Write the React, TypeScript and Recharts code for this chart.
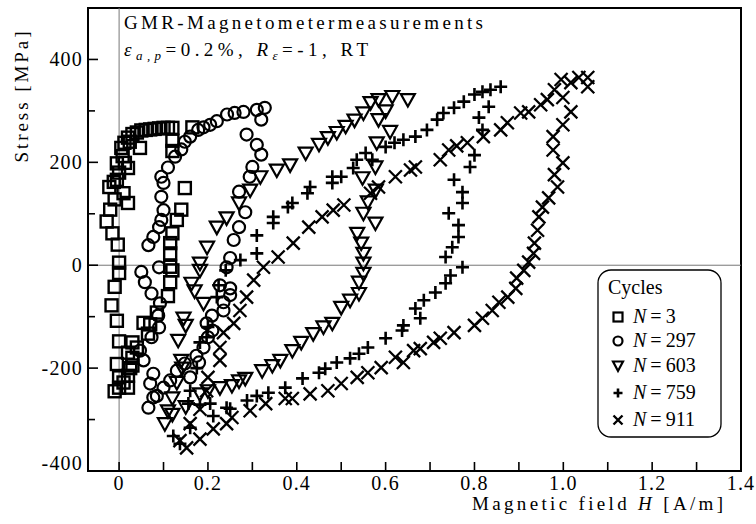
import React from 'react';
import { ScatterChart, Scatter, XAxis, YAxis, ReferenceLine, ReferenceArea } from 'recharts';

// N = 3 (squares)
const n3H = [-0.01, 0.0, 0.02, 0.0, -0.005, 0.02, 0.03, 0.02, 0.03, 0.0, -0.005, -0.017, -0.01, 0.0, 0.0, -0.003, -0.015, -0.028, -0.02, -0.01, -0.022, -0.012, 0.0, -0.005, 0.008, 0.005, 0.012, 0.02, 0.03, 0.04, 0.05, 0.06, 0.07, 0.08, 0.09, 0.1, 0.11, 0.12, 0.165, 0.12, 0.12, 0.148, 0.14, 0.13, 0.12, 0.115, 0.115, 0.115, 0.12, 0.115, 0.11, 0.085, 0.07, 0.055, 0.065, 0.04, 0.03, 0.025, 0.01, 0.013, 0.02, -0.005, 0.01, 0.02, 0.024, 0.047];
const n3S = [-245, -238, -238, -218, -192, -215, -195, -170, -150, -148, -108, -78, -42, -15, 5, 40, 62, 85, 108, 128, 152, 162, 180, 198, 212, 228, 238, 248, 255, 258, 262, 263, 264, 265, 266, 267, 267, 267, 268, 242, 222, 150, 108, 88, 62, 43, 23, -3, -10, -33, -60, -92, -115, -112, -133, -160, -180, -200, -228, 199, 189, 166, 140, 121, 240, 228];

// N = 297 (circles)
const n297H = [0.066, 0.077, 0.07, 0.077, 0.055, 0.047, 0.073, 0.09, 0.088, 0.092, 0.073, 0.058, 0.05, 0.09, 0.066, 0.077, 0.09, 0.095, 0.1, 0.095, 0.1, 0.095, 0.11, 0.126, 0.14, 0.148, 0.16, 0.178, 0.19, 0.205, 0.22, 0.243, 0.26, 0.28, 0.31, 0.328, 0.085, 0.1, 0.115, 0.13, 0.148, 0.16, 0.174, 0.18, 0.19, 0.2, 0.21, 0.197, 0.209, 0.235, 0.235, 0.25, 0.25, 0.227, 0.242, 0.25, 0.258, 0.27, 0.284, 0.27, 0.294, 0.3, 0.32, 0.31, 0.287, 0.32];
const n297S = [-277, -257, -230, -211, -185, -166, -140, -121, -98, -74, -55, -33, -13, -4, 39, 55, 74, 88, 107, 133, 160, 172, 190, 211, 225, 240, 250, 263, 268, 273, 280, 293, 296, 298, 302, 306, -254, -238, -224, -205, -191, -218, -176, -189, -160, -140, -127, -113, -98, -88, -72, -58, -45, -39, -4, 14, 49, 74, 103, 143, 172, 191, 215, 234, 254, 283];

// N = 603 (triangles)
const n603H = [0.103, 0.11, 0.12, 0.13, 0.142, 0.14, 0.133, 0.15, 0.145, 0.19, 0.17, 0.163, 0.182, 0.182, 0.198, 0.22, 0.242, 0.27, 0.295, 0.318, 0.355, 0.385, 0.42, 0.45, 0.47, 0.49, 0.51, 0.53, 0.55, 0.566, 0.584, 0.615, 0.65, 0.12, 0.15, 0.182, 0.2, 0.227, 0.254, 0.27, 0.284, 0.322, 0.345, 0.363, 0.39, 0.41, 0.437, 0.46, 0.48, 0.5, 0.52, 0.54, 0.54, 0.55, 0.55, 0.55, 0.545, 0.536, 0.577, 0.55, 0.56, 0.578, 0.548, 0.577, 0.58, 0.61, 0.584, 0.6];
const n603S = [-308, -283, -258, -228, -200, -185, -146, -117, -103, -74, -50, -35, -10, 4, 35, 74, 92, 121, 146, 172, 185, 195, 218, 235, 248, 258, 270, 282, 296, 316, 322, 328, 322, -290, -275, -250, -244, -238, -234, -225, -220, -205, -195, -185, -166, -150, -133, -120, -113, -82, -68, -55, -33, -16, 4, 23, 43, 62, 82, 101, 123, 146, 170, 191, 238, 260, 283, 300];

// N = 759 (plus)
const n759H = [0.122, 0.137, 0.16, 0.16, 0.175, 0.182, 0.197, 0.2, 0.22, 0.224, 0.24, 0.273, 0.31, 0.31, 0.347, 0.347, 0.38, 0.39, 0.424, 0.43, 0.48, 0.48, 0.5, 0.527, 0.535, 0.555, 0.57, 0.6, 0.62, 0.64, 0.667, 0.693, 0.716, 0.73, 0.754, 0.776, 0.8, 0.818, 0.836, 0.859, 0.156, 0.182, 0.205, 0.212, 0.242, 0.25, 0.288, 0.31, 0.336, 0.374, 0.413, 0.45, 0.464, 0.49, 0.52, 0.54, 0.56, 0.6, 0.637, 0.64, 0.678, 0.667, 0.686, 0.712, 0.735, 0.746, 0.773, 0.735, 0.75, 0.764, 0.764, 0.742, 0.773, 0.773, 0.754, 0.79, 0.8, 0.818, 0.81, 0.832];
const n759S = [-332, -347, -316, -244, -200, -150, -140, -120, -62, -39, -10, 10, 23, 58, 82, 94, 113, 121, 140, 152, 160, 172, 172, 189, 205, 218, 205, 230, 238, 244, 250, 263, 283, 296, 306, 318, 332, 337, 341, 347, -269, -271, -269, -293, -277, -279, -263, -254, -248, -238, -220, -209, -201, -189, -181, -172, -160, -142, -127, -117, -103, -84, -68, -53, -35, -20, -4, 16, 35, 55, 78, 101, 121, 142, 166, 191, 214, 263, 287, 308];

// N = 911 (cross)
const n911H = [0.137, 0.152, 0.16, 0.182, 0.197, 0.2, 0.227, 0.227, 0.235, 0.258, 0.272, 0.287, 0.303, 0.325, 0.358, 0.392, 0.427, 0.457, 0.482, 0.506, 0.566, 0.584, 0.622, 0.656, 0.667, 0.723, 0.742, 0.76, 0.784, 0.82, 0.859, 0.874, 0.904, 0.922, 0.949, 0.964, 0.98, 0.995, 1.017, 1.035, 1.055, 0.182, 0.212, 0.242, 0.254, 0.295, 0.33, 0.374, 0.39, 0.43, 0.47, 0.5, 0.536, 0.56, 0.59, 0.622, 0.64, 0.663, 0.678, 0.708, 0.723, 0.754, 0.8, 0.818, 0.84, 0.855, 0.875, 0.893, 0.895, 0.911, 0.922, 0.933, 0.935, 0.942, 0.945, 0.953, 0.967, 0.987, 0.98, 0.999, 0.977, 0.977, 0.999, 1.017, 0.999, 1.055];
const n911S = [-341, -355, -308, -280, -244, -218, -185, -160, -131, -113, -88, -62, -29, -4, 16, 43, 74, 94, 107, 117, 140, 152, 172, 185, 191, 205, 224, 232, 238, 250, 263, 277, 296, 298, 312, 322, 341, 361, 355, 365, 365, -338, -318, -308, -296, -283, -269, -259, -259, -250, -244, -230, -218, -209, -199, -179, -189, -166, -162, -150, -142, -131, -117, -103, -88, -72, -62, -45, -25, -10, 6, 23, 43, 68, 94, 113, 131, 152, 176, 199, 224, 250, 273, 298, 326, 347];

const xTicks = [0, 0.1, 0.2, 0.3, 0.4, 0.5, 0.6, 0.7, 0.8, 0.9, 1.0, 1.1, 1.2, 1.3, 1.4];
const yTicks = [-400, -300, -200, -100, 0, 100, 200, 300, 400];
const legendLabels = ['3', '297', '603', '759', '911'];

const toData = (h: number[], s: number[]) => h.map((v, i) => ({ h: v, s: s[i] }));

const FONT = "'Liberation Serif', 'Times New Roman', serif";

const Sq = (p: any) => (
  <rect x={p.cx - 6} y={p.cy - 6} width={12} height={12} fill="none" stroke="#000" strokeWidth={2.4} />
);
const Ci = (p: any) => <circle cx={p.cx} cy={p.cy} r={6} fill="none" stroke="#000" strokeWidth={2.2} />;
const Tri = (p: any) => (
  <path d={`M${p.cx - 7},${p.cy - 5.5} L${p.cx + 7},${p.cy - 5.5} L${p.cx},${p.cy + 7} Z`} fill="none" stroke="#000" strokeWidth={2.2} strokeLinejoin="miter" />
);
const Plus = (p: any) => (
  <path d={`M${p.cx - 6.5},${p.cy} L${p.cx + 6.5},${p.cy} M${p.cx},${p.cy - 6.5} L${p.cx},${p.cy + 6.5}`} stroke="#000" strokeWidth={2.6} fill="none" />
);
const Cross = (p: any) => (
  <path d={`M${p.cx - 6.5},${p.cy - 6.5} L${p.cx + 6.5},${p.cy + 6.5} M${p.cx - 6.5},${p.cy + 6.5} L${p.cx + 6.5},${p.cy - 6.5}`} stroke="#000" strokeWidth={2.3} fill="none" />
);

const XTick = (props: any) => {
  const { x, y, payload } = props;
  const v = payload.value;
  const major = Math.round(v * 10) % 2 === 0;
  return (
    <g>
      <line x1={x} x2={x} y1={y} y2={y - 9} stroke="#000" strokeWidth={1.6} />
      {major && (
        <text x={x} y={y + 19} textAnchor="middle" fontFamily={FONT} fontSize={20} letterSpacing={1.2} fill="#000">
          {v === 0 ? '0' : v.toFixed(1)}
        </text>
      )}
    </g>
  );
};

const YTick = (props: any) => {
  const { x, y, payload } = props;
  const v = payload.value;
  const major = v % 200 === 0;
  return (
    <g>
      <line x1={x} x2={x + (major ? 10 : 7)} y1={y} y2={y} stroke="#000" strokeWidth={1.6} />
      {major && (
        <text x={x - 5} y={y + 7 + (v === -400 ? -8 : 0)} textAnchor="end" fontFamily={FONT} fontSize={20} letterSpacing={1.2} fill="#000">
          {String(v)}
        </text>
      )}
    </g>
  );
};

const legendSyms = [
  (cx: number, cy: number) => <rect x={cx - 4.5} y={cy - 4.5} width={9} height={9} fill="none" stroke="#000" strokeWidth={2.2} />,
  (cx: number, cy: number) => <circle cx={cx} cy={cy} r={4.5} fill="none" stroke="#000" strokeWidth={2.2} />,
  (cx: number, cy: number) => <path d={`M${cx - 5},${cy - 4.5} L${cx + 5},${cy - 4.5} L${cx},${cy + 5} Z`} fill="none" stroke="#000" strokeWidth={2.2} />,
  (cx: number, cy: number) => <path d={`M${cx - 4.5},${cy} L${cx + 4.5},${cy} M${cx},${cy - 4.5} L${cx},${cy + 4.5}`} stroke="#000" strokeWidth={2.6} />,
  (cx: number, cy: number) => <path d={`M${cx - 4.5},${cy - 4.5} L${cx + 4.5},${cy + 4.5} M${cx - 4.5},${cy + 4.5} L${cx + 4.5},${cy - 4.5}`} stroke="#000" strokeWidth={2.4} />,
];
const legendY = [317, 341, 366, 393, 420];

export default function App() {
  return (
    <div style={{ position: 'absolute', left: 0, top: 0, width: 756, height: 524, background: '#fff' }}>
      <ScatterChart width={756} height={524} margin={{ top: 8, right: 15, bottom: 0, left: 0 }}>
        <XAxis
          type="number"
          dataKey="h"
          domain={[-0.07, 1.4]}
          ticks={xTicks}
          interval={0}
          allowDataOverflow
          height={53}
          tickSize={0}
          tickMargin={0}
          tickLine={false}
          tick={<XTick />}
          axisLine={{ stroke: '#000', strokeWidth: 2 }}
        />
        <YAxis
          type="number"
          dataKey="s"
          domain={[-400, 500]}
          ticks={yTicks}
          interval={0}
          allowDataOverflow
          width={88}
          tickSize={0}
          tickMargin={0}
          tickLine={false}
          tick={<YTick />}
          axisLine={{ stroke: '#000', strokeWidth: 2 }}
        />
        <ReferenceArea x1={-0.07} x2={1.4} y1={-400} y2={500} fill="none" stroke="#000" strokeWidth={2} ifOverflow="visible" />
        <ReferenceLine x={0} stroke="#777" strokeWidth={1} />
        <ReferenceLine y={0} stroke="#777" strokeWidth={1} />
        <Scatter data={toData(n3H, n3S)} shape={Sq} isAnimationActive={false} />
        <Scatter data={toData(n297H, n297S)} shape={Ci} isAnimationActive={false} />
        <Scatter data={toData(n603H, n603S)} shape={Tri} isAnimationActive={false} />
        <Scatter data={toData(n759H, n759S)} shape={Plus} isAnimationActive={false} />
        <Scatter data={toData(n911H, n911S)} shape={Cross} isAnimationActive={false} />
      </ScatterChart>
      <svg width={756} height={524} style={{ position: 'absolute', left: 0, top: 0, pointerEvents: 'none' }}>
        <g fontFamily={FONT} fill="#000">
          <text x={124} y={29} fontSize={19} textLength={359} lengthAdjust="spacing">GMR-Magnetometermeasurements</text>
          <text x={124} y={56} fontSize={19} textLength={244} lengthAdjust="spacing">
            <tspan fontStyle="italic">ε</tspan>
            <tspan fontStyle="italic" fontSize={13} dy={4}>a,p</tspan>
            <tspan dy={-4}>=0.2%,  </tspan>
            <tspan fontStyle="italic">R</tspan>
            <tspan fontStyle="italic" fontSize={13} dy={4}>ε</tspan>
            <tspan dy={-4}>=-1,  RT</tspan>
          </text>
          <text x={0} y={0} fontSize={19} transform="translate(28,97) rotate(-90)" textAnchor="middle" textLength={131} lengthAdjust="spacing">Stress  [MPa]</text>
          <text x={472} y={510} fontSize={19} textLength={251} lengthAdjust="spacing">
            <tspan>Magnetic  field  </tspan>
            <tspan fontStyle="italic">H</tspan>
            <tspan> [A/m]</tspan>
          </text>
          <rect x={598} y={270} width={123} height={167} rx={13} ry={13} fill="#fff" stroke="#000" strokeWidth={1.3} />
          <text x={608} y={294} fontSize={20}>Cycles</text>
          {legendLabels.map((lab, i) => (
            <g key={lab}>
              {legendSyms[i](618, legendY[i])}
              <text x={633} y={legendY[i] + 6} fontSize={20}>
                <tspan fontStyle="italic">N</tspan>
                <tspan>{'\u2009=\u2009' + lab}</tspan>
              </text>
            </g>
          ))}
        </g>
      </svg>
    </div>
  );
}
